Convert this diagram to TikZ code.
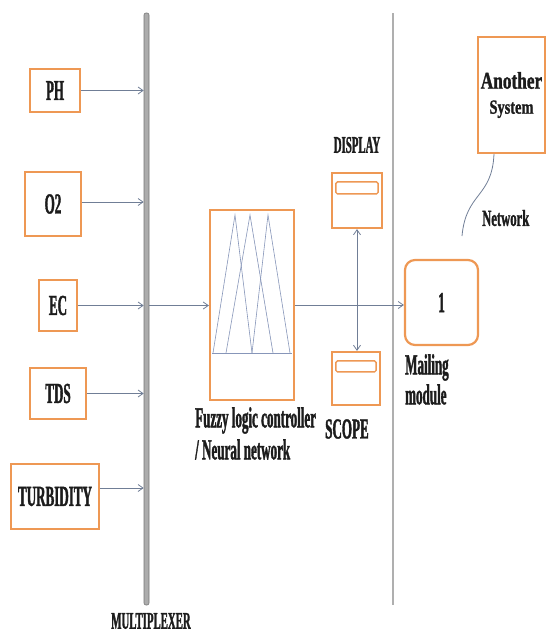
\documentclass[tikz,border=0pt]{standalone}
\usepackage{fontspec}
\setmainfont{Liberation Serif}[FakeStretch=0.45,FakeBold=1.2]
\newfontfamily\netfont{Liberation Serif}[FakeStretch=0.55,FakeBold=1.2]
\newfontfamily\anofont{Liberation Serif}[FakeStretch=0.72,FakeBold=1.2]
\usetikzlibrary{arrows.meta}
\definecolor{boxor}{RGB}{238,152,84}
\definecolor{conn}{RGB}{112,126,150}
\definecolor{txt}{RGB}{28,28,28}
\definecolor{barg}{RGB}{172,172,172}
\definecolor{barline}{RGB}{118,118,118}
\definecolor{sepc}{RGB}{175,175,175}
\definecolor{tric}{RGB}{135,150,185}
\tikzset{
  box/.style={draw=boxor, line width=2.2pt, fill=white, inner sep=0pt, text=txt},
  big/.style={font=\bfseries\fontsize{29}{32}\selectfont, text=txt},
  small/.style={font=\bfseries\fontsize{24}{26}\selectfont, text=txt},
  arr/.style={draw=conn, line width=0.8pt, -{Straight Barb[length=5pt,width=7pt]}},
  dblarr/.style={draw=conn, line width=0.8pt, {Straight Barb[length=5pt,width=7pt]}-{Straight Barb[length=5pt,width=7pt]}},
  plain/.style={draw=conn, line width=0.8pt},
  tri/.style={draw=tric, line width=0.6pt},
  innerbar/.style={draw=boxor, line width=1.4pt, rounded corners=1.5pt, fill=white},
}
\begin{document}
\begin{tikzpicture}[x=1pt,y=-1pt]
\useasboundingbox (0,0) rectangle (547,633);

% multiplexer bar and separator
\node[draw=barline, fill=barg, line width=0.6pt, rounded corners=2pt, minimum width=5pt, minimum height=592pt, inner sep=0pt] (mux) at (146.5,309) {};
\coordinate (septop) at (393,13);
\coordinate (sepbot) at (393,605);
\draw[sepc, line width=1.2pt] (septop) -- (sepbot);

% sensor boxes
\node[box, big, minimum width=50pt, minimum height=43pt] (ph) at (55,90.5) {PH};
\node[box, big, minimum width=56pt, minimum height=64pt] (o2) at (53,204) {O2};
\node[box, big, minimum width=38pt, minimum height=51pt] (ec) at (58,305.5) {EC};
\node[box, big, minimum width=56pt, minimum height=51pt] (tds) at (58,393.5) {TDS};
\node[box, big, minimum width=88pt, minimum height=65pt] (turb) at (55,496.5) {TURBIDITY};

\draw[arr] (ph.east) -- (ph.east -| mux.west);
\draw[arr] ([yshift=2pt]o2.east) -- ([yshift=2pt]o2.east -| mux.west);
\draw[arr] (ec.east) -- (ec.east -| mux.west);
\draw[arr] (tds.east) -- (tds.east -| mux.west);
\draw[arr] ([yshift=8.5pt]turb.east) -- ([yshift=8.5pt]turb.east -| mux.west);

% fuzzy controller
\node[box, minimum width=84pt, minimum height=190pt] (fuzzy) at (252,305) {};
\draw[tri] (213,353) -- (235,215) -- (252,353);
\draw[tri] (226,353) -- (250,215) -- (273,353);
\draw[tri] (252,353) -- (268,215) -- (290,353);
\draw[tri] (212,353) -- (292,353);
\draw[arr] (ec.east -| mux.east) -- (ec.east -| fuzzy.west);
\node[anchor=north west, align=left, inner sep=0pt, text=txt, font=\bfseries\fontsize{29}{32}\selectfont] (fuzzylbl) at (195,407) {Fuzzy logic controller\\/ Neural network};

% display and scope
\node[box, minimum width=50pt, minimum height=55pt] (display) at (357,200.5) {};
\draw[innerbar] ([xshift=5pt,yshift=-10pt]display.north west) rectangle ([xshift=-5pt,yshift=-22pt]display.north east);
\node[box, minimum width=48pt, minimum height=53pt] (scope) at (356,378.5) {};
\draw[innerbar] ([xshift=5pt,yshift=-10pt]scope.north west) rectangle ([xshift=-5pt,yshift=-21pt]scope.north east);
\draw[dblarr] (display.south) -- (display.south |- scope.north);
\node[small] (displbl) at (357,145) {DISPLAY};
\node[big, anchor=west, inner sep=0pt] (scopelbl) at (325,429) {SCOPE};

% mailing module
\node[box, big, rounded corners=10pt, minimum width=73pt, minimum height=85pt] (mail) at (441.5,302.5) {1};
\draw[arr] (fuzzy.east) -- (fuzzy.east -| mail.west);
\node[anchor=north west, align=left, inner sep=0pt, text=txt, font=\bfseries\fontsize{29}{30}\selectfont] (maillbl) at (405,354) {Mailing\\module};

% another system and network
\node[box, minimum width=67pt, minimum height=116pt, align=center, font=\anofont\bfseries\fontsize{24}{25}\selectfont] (another) at (511.5,95) {Another\\{\fontsize{20}{22}\selectfont System}};
\coordinate (netend) at (462,236);
\draw[plain] ([xshift=-17.5pt]another.south) .. controls (492,198) and (466,192) .. (netend);
\node[anchor=west, inner sep=0pt, text=txt, font=\netfont\bfseries\fontsize{23}{24}\selectfont] (netlbl) at (482,218) {Network};

\node[small] (muxlbl) at (151,621) {MULTIPLEXER};
\end{tikzpicture}
\end{document}
